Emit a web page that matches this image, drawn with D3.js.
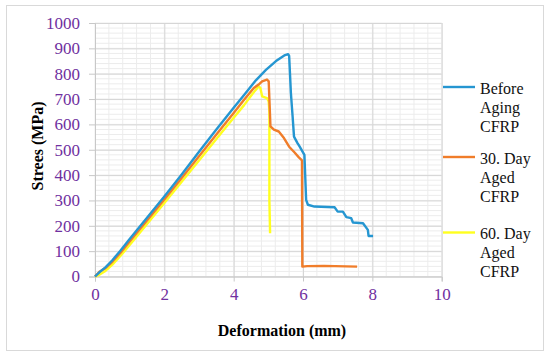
<!DOCTYPE html>
<html>
<head>
<meta charset="utf-8">
<script src="https://cdn.jsdelivr.net/npm/d3@7"></script>
<style>
  body { margin: 0; background: #fff; }
  svg { display: block; }
</style>
</head>
<body>
<svg id="chart" width="550" height="357"></svg>
<script>
// deformation (mm) / stress (MPa)
var beforeX = [0, 0.14, 0.3, 0.5, 0.72, 1.0, 1.5, 2.0, 2.5, 3.0, 3.5, 4.0, 4.3, 4.64, 4.93, 5.22, 5.46, 5.57, 5.6, 5.65, 5.7, 5.74, 5.84, 5.9, 6.04, 6.09, 6.14, 6.33, 6.91, 7.0, 7.15, 7.25, 7.39, 7.44, 7.73, 7.87, 7.89, 8.02];
var beforeY = [0, 18, 36, 64, 100, 148, 232, 316, 402, 492, 580, 666, 716, 774, 815, 850, 872, 877, 870, 724, 631, 552, 526, 513, 480, 302, 283, 276, 273, 256, 256, 234, 230, 213, 210, 184, 160, 160];

var day30X = [0, 0.14, 0.3, 0.5, 0.75, 1.0, 1.5, 2.0, 2.5, 3.0, 3.5, 4.0, 4.3, 4.58, 4.72, 4.82, 4.96, 5.01, 5.06, 5.16, 5.3, 5.45, 5.6, 5.75, 5.88, 5.97, 5.98, 6.12, 6.6, 7.56];
var day30Y = [0, 20, 33, 58, 96, 138, 221, 304, 389, 474, 560, 645, 697, 744, 757, 770, 777, 770, 592, 579, 572, 546, 512, 490, 470, 458, 39, 41, 42, 39];

var day60X = [0, 0.1, 0.3, 0.5, 0.75, 1.0, 1.5, 2.0, 2.5, 3.0, 3.5, 4.0, 4.3, 4.55, 4.72, 4.77, 4.82, 4.96, 5.01, 5.03, 5.03, 5.05];
var day60Y = [0, 5, 22, 47, 84, 124, 207, 290, 374, 458, 542, 626, 676, 722, 750, 744, 711, 704, 690, 650, 300, 171];

var seriesNames = [["Before", "Aging", "CFRP"], ["30. Day", "Aged", "CFRP"], ["60. Day", "Aged", "CFRP"]];
var seriesColors = ["#2596d1", "#f07d2a", "#ffff1f"];

var xTicks = [0, 2, 4, 6, 8, 10];
var yTicks = [0, 100, 200, 300, 400, 500, 600, 700, 800, 900, 1000];

var margin = { top: 23, left: 95 },
    width = 441.7 - margin.left,
    height = 276.5 - margin.top;

var serif = '"Liberation Serif", "Times New Roman", serif';

var svg = d3.select('#chart');

// outer chart frame
svg.append('rect')
  .attr('x', 6.5).attr('y', 5.5)
  .attr('width', 537).attr('height', 345)
  .attr('fill', '#fff')
  .attr('stroke', '#d9d9d9');

var x = d3.scaleLinear().domain([0, 10]).range([0, width]);
var y = d3.scaleLinear().domain([0, 1000]).range([height, 0]);

var g = svg.append('g')
  .attr('transform', 'translate(' + margin.left + ',' + margin.top + ')');

// minor grid
g.append('g')
  .selectAll('line')
  .data(d3.range(0, 10.001, 0.4))
  .enter().append('line')
    .attr('x1', d => x(d)).attr('x2', d => x(d))
    .attr('y1', 0).attr('y2', height)
    .attr('stroke', '#ececec');
g.append('g')
  .selectAll('line')
  .data(d3.range(0, 1000.001, 20))
  .enter().append('line')
    .attr('x1', 0).attr('x2', width)
    .attr('y1', d => y(d)).attr('y2', d => y(d))
    .attr('stroke', '#ececec');

// major grid
g.append('g')
  .call(d3.axisLeft(y).tickValues(yTicks).tickSize(-width).tickFormat(''))
  .call(a => a.select('.domain').remove())
  .call(a => a.selectAll('line').attr('stroke', '#d6d6d6'));
g.append('g')
  .attr('transform', 'translate(0,' + height + ')')
  .call(d3.axisBottom(x).tickValues(xTicks).tickSize(-height).tickFormat(''))
  .call(a => a.select('.domain').remove())
  .call(a => a.selectAll('line').attr('stroke', '#d6d6d6'));

// axes with labels
var yAxis = g.append('g')
  .call(d3.axisLeft(y).tickValues(yTicks).tickSize(6).tickPadding(9).tickFormat(d3.format('d')));
var xAxis = g.append('g')
  .attr('transform', 'translate(0,' + height + ')')
  .call(d3.axisBottom(x).tickValues(xTicks).tickSize(5).tickPadding(6).tickFormat(d3.format('d')));

[yAxis, xAxis].forEach(function(a) {
  a.select('.domain').attr('stroke', '#c8c8c8');
  a.selectAll('line').attr('stroke', '#c8c8c8');
  a.selectAll('text')
    .attr('fill', '#7030a0')
    .style('font-family', serif)
    .style('font-size', '17px');
});

// curves
var allSeries = [
  beforeX.map((d, i) => [d, beforeY[i]]),
  day30X.map((d, i) => [d, day30Y[i]]),
  day60X.map((d, i) => [d, day60Y[i]])
];

var line = d3.line()
  .x(d => x(d[0]))
  .y(d => y(d[1]));

// draw the yellow first so blue sits on top
[2, 1, 0].forEach(function(k) {
  g.append('path')
    .datum(allSeries[k])
    .attr('fill', 'none')
    .attr('stroke', seriesColors[k])
    .attr('stroke-width', 2.4)
    .attr('stroke-linejoin', 'round')
    .attr('d', line);
});

// axis titles
svg.append('text')
  .attr('x', 282)
  .attr('y', 336)
  .attr('text-anchor', 'middle')
  .style('font-family', serif)
  .style('font-weight', 'bold')
  .style('font-size', '16px')
  .text('Deformation (mm)');

svg.append('text')
  .attr('transform', 'translate(43,146) rotate(-90)')
  .attr('text-anchor', 'middle')
  .style('font-family', serif)
  .style('font-weight', 'bold')
  .style('font-size', '16px')
  .text('Strees (MPa)');

// legend
var legendTop = [93.5, 163.5, 239];
seriesNames.forEach(function(names, k) {
  svg.append('line')
    .attr('x1', 443).attr('x2', 475)
    .attr('y1', legendTop[k] - 6.5).attr('y2', legendTop[k] - 6.5)
    .attr('stroke', seriesColors[k])
    .attr('stroke-width', 2.4);
  names.forEach(function(t, j) {
    svg.append('text')
      .attr('x', 480)
      .attr('y', legendTop[k] + j * 19)
      .style('font-family', serif)
      .style('font-size', '16px')
      .attr('fill', '#111')
      .text(t);
  });
});
</script>
</body>
</html>
